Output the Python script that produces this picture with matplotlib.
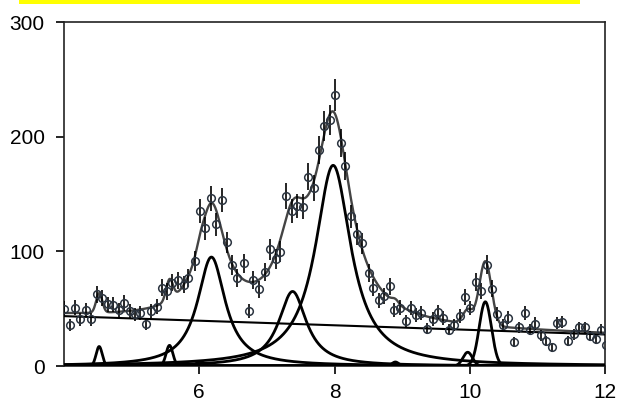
import numpy as np
import matplotlib
matplotlib.use("Agg")
import matplotlib.pyplot as plt
from matplotlib.patches import Rectangle

# ---- measured data points ----
x_data = [4.00, 4.09, 4.16, 4.24, 4.32, 4.40, 4.49, 4.56, 4.65, 4.72, 4.81, 4.89, 4.97, 5.05,
          5.13, 5.21, 5.29, 5.37, 5.45, 5.52, 5.60, 5.68, 5.77, 5.84, 5.93, 6.01, 6.09, 6.17,
          6.25, 6.33, 6.41, 6.49, 6.56, 6.66, 6.73, 6.80, 6.89, 6.97, 7.05, 7.13, 7.20, 7.28,
          7.37, 7.45, 7.53, 7.61, 7.69, 7.77, 7.85, 7.93, 8.01, 8.09, 8.16, 8.25, 8.33, 8.41,
          8.51, 8.57, 8.66, 8.73, 8.82, 8.88, 8.97, 9.05, 9.13, 9.20, 9.28, 9.37, 9.45, 9.53,
          9.60, 9.69, 9.77, 9.85, 9.93, 10.01, 10.09, 10.17, 10.25, 10.33, 10.41, 10.49, 10.56,
          10.65, 10.73, 10.81, 10.89, 10.97, 11.05, 11.13, 11.21, 11.29, 11.37, 11.46, 11.54,
          11.62, 11.70, 11.78, 11.86, 11.94, 12.01]
y_data = [50, 35.5, 51, 40.7, 48.6, 40.7, 62.4, 59, 53.8, 53.5, 48.6, 55, 47.7, 45,
          46, 36.4, 48, 51.5, 68.2, 65, 72.8, 74.6, 71, 77, 91.3, 135.3, 120, 146.3,
          123.8, 144.8, 107.8, 88.2, 77, 89.6, 48, 75.2, 66.8, 81.8, 101.7, 93.7, 99.7, 148.3,
          135.3, 139.6, 139, 165, 155, 188.5, 209, 214.8, 236.5, 194.5, 174.3, 130.4, 115, 107,
          81, 68.3, 57.2, 61, 69.4, 48.6, 51, 39.3, 50.6, 44.2, 46.2, 32.7, 41, 47,
          41.9, 31.8, 35.6, 43.4, 60.1, 50.6, 73.1, 65.3, 88.5, 67.4, 45.1, 35.6, 42.2,
          21, 33.6, 46.2, 31.8, 37, 26.9, 22, 16.2, 37.6, 38.4, 22, 27.8,
          33.6, 33.6, 26.3, 23.2, 31.8, 18.2]
y_err = [6.4, 5.4, 6.4, 5.7, 6.3, 5.7, 7.1, 6.9, 6.6, 6.6, 6.3, 6.7, 6.2, 6.0,
         6.1, 5.4, 6.2, 6.5, 7.4, 7.3, 7.7, 7.8, 7.6, 7.9, 8.6, 10.5, 9.9, 10.9,
         10.0, 10.8, 9.3, 8.5, 7.9, 8.5, 6.2, 7.8, 7.4, 8.1, 9.1, 8.7, 9.0, 11.0,
         10.5, 10.6, 10.6, 11.6, 11.2, 12.4, 13.0, 13.2, 13.8, 12.6, 11.9, 10.3, 9.7, 9.3,
         8.1, 7.4, 6.8, 7.0, 7.5, 6.3, 6.4, 5.6, 6.4, 6.0, 6.1, 5.1, 5.8, 6.2,
         5.8, 5.1, 5.4, 5.9, 7.0, 6.4, 7.7, 7.3, 8.5, 7.4, 6.0, 5.4, 5.8,
         4.1, 5.2, 6.1, 5.1, 5.5, 4.7, 4.2, 3.6, 5.5, 5.6, 4.2, 4.7,
         5.2, 5.2, 4.6, 4.3, 5.1, 3.8]

# ---- fitted model parameters ----
# Lorentzian components
lor_center = [6.18, 7.38, 7.98]
lor_height = [95, 65, 175]
lor_hwhm = [0.25, 0.25, 0.32]
# Gaussian components
gau_center = [4.52, 5.56, 6.01, 8.90, 9.97, 10.23]
gau_height = [17, 18, 4, 3.5, 12, 56]
gau_sigma = [0.045, 0.05, 0.05, 0.05, 0.07, 0.09]
# linear background (value at x=4 and x=12)
bg_x = [4.0, 12.0]
bg_y = [43.5, 27.5]

x_ticks = [6, 8, 10, 12]
y_ticks = [0, 100, 200, 300]

plt.rcParams['font.family'] = ['Liberation Sans', 'DejaVu Sans']

fig = plt.figure(figsize=(6.17, 4.04), dpi=100)
fig.patches.append(Rectangle((19 / 617, 1 - 4 / 404), (580 - 19) / 617, 4 / 404,
                             transform=fig.transFigure, facecolor='#ffff00',
                             edgecolor='none', zorder=0))
ax = fig.add_axes([64 / 617, 38 / 404, (605 - 64) / 617, (366 - 22) / 404])

xs = np.linspace(4, 12, 1600)
comps = []
for c, h, g in zip(lor_center, lor_height, lor_hwhm):
    comps.append(h * g ** 2 / ((xs - c) ** 2 + g ** 2))
for c, h, s in zip(gau_center, gau_height, gau_sigma):
    comps.append(h * np.exp(-(xs - c) ** 2 / (2 * s ** 2)))
bg = np.interp(xs, bg_x, bg_y)
total = bg + np.sum(comps, axis=0)

for comp in comps:
    ax.plot(xs, comp, color='black', lw=2.0, zorder=3)
ax.plot(xs, bg, color='black', lw=1.5, zorder=3)
ax.plot(xs, total, color='#444444', lw=1.7, zorder=4)

ax.errorbar(x_data, y_data, yerr=y_err, fmt='o', ms=5.5, mfc='none', mec='#2b3440',
            mew=1.1, ecolor='black', elinewidth=1.2, capsize=0, zorder=5)

ax.set_xlim(4, 12)
ax.set_ylim(0, 300)
ax.set_xticks(x_ticks)
ax.set_yticks(y_ticks)
ax.tick_params(axis='both', direction='out', length=6, width=1.2, labelsize=15,
               colors='black')
ax.tick_params(axis='x', pad=6)
ax.tick_params(axis='y', pad=8)
for sp in ax.spines.values():
    sp.set_linewidth(1.2)
    sp.set_color('#222222')

fig.savefig('out.png', dpi=100)
